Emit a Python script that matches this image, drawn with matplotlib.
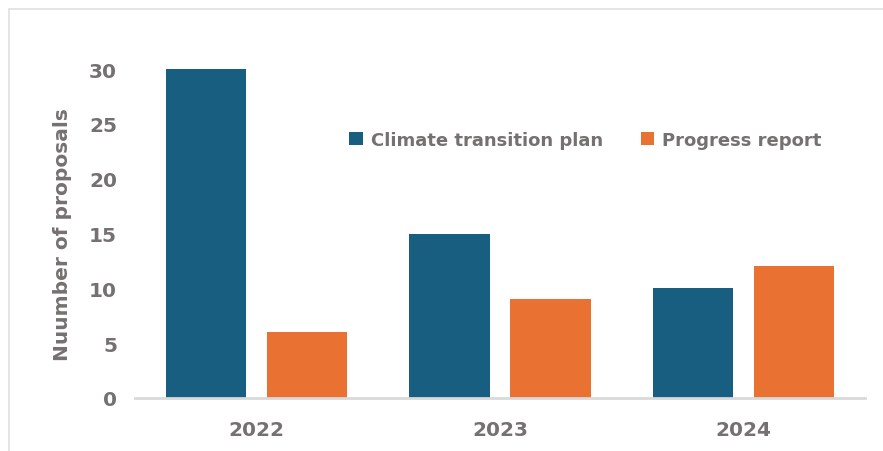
import numpy as np
import matplotlib.pyplot as plt
from matplotlib.patches import Rectangle

# chart data
years = ["2022", "2023", "2024"]
transition_plan = [30, 15, 10]
progress_report = [6, 9, 12]

BLUE = "#175E80"
ORANGE = "#E97132"
GRAY = "#757171"

plt.rcParams['font.family'] = ['DejaVu Sans']
plt.rcParams['font.weight'] = 'bold'

fig = plt.figure(figsize=(8.83, 4.52), dpi=100)
ax = fig.add_axes([135 / 883, 1 - 399 / 452, 730 / 883, 329 / 452])

x = np.arange(len(years))
w = 0.33
off = 0.207
ax.bar(x - off, transition_plan, w, color=BLUE, label="Climate transition plan")
ax.bar(x + off, progress_report, w, color=ORANGE, label="Progress report")

ax.set_xlim(-0.5, len(years) - 0.5)
ax.set_ylim(0, 30)
ax.set_yticks([0, 5, 10, 15, 20, 25, 30])
ax.set_xticks(x)
ax.set_xticklabels(years)

for s in ["top", "right", "left"]:
    ax.spines[s].set_visible(False)
ax.spines["bottom"].set_color("#D9D9D9")
ax.spines["bottom"].set_linewidth(2)

ax.tick_params(axis="both", length=0, labelsize=14.5, labelcolor=GRAY)
ax.tick_params(axis="y", pad=13)
ax.tick_params(axis="x", pad=16)
for lbl in ax.get_xticklabels() + ax.get_yticklabels():
    lbl.set_fontweight("bold")

ax.set_ylabel("Nuumber of proposals", fontsize=14.5, color=GRAY,
              fontweight="bold", labelpad=12)

fig.legend(loc="center left", bbox_to_anchor=(349 / 883, 1 - 141 / 452),
           ncol=2, frameon=False, labelcolor=GRAY,
           handlelength=0.75, handleheight=0.75, handletextpad=0.45,
           columnspacing=2.1, borderaxespad=0, borderpad=0,
           prop={"weight": "bold", "size": 13})

# outer chart border
fig.patches.append(Rectangle((9 / 883, -0.1), 1.1, 1 - 10 / 452 + 0.1,
                             transform=fig.transFigure, fill=False,
                             edgecolor="#E0E0E0", linewidth=1.2))

fig.savefig("out.png", dpi=100)
